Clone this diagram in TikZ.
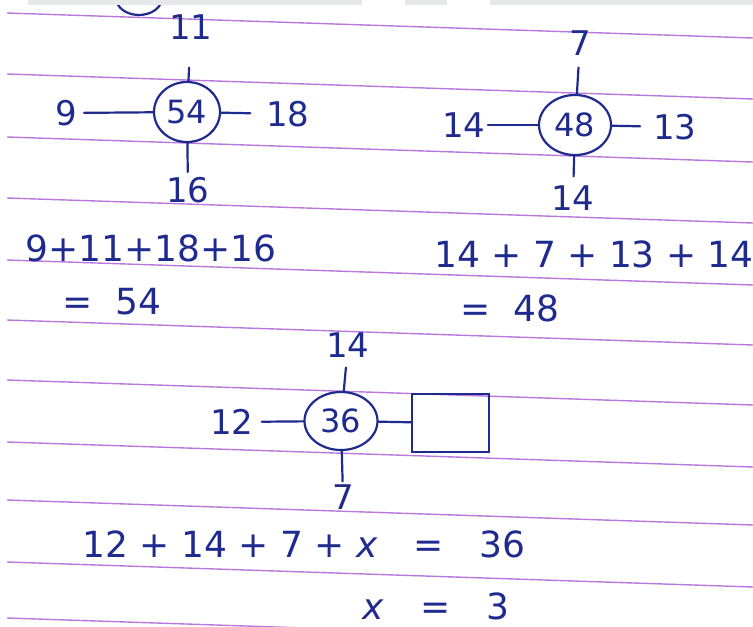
\documentclass[tikz,border=0pt]{standalone}
\usepackage{xcolor}
\usepackage{fontspec}
\setmainfont{DejaVu Sans}
\usetikzlibrary{shapes.geometric}
\definecolor{ink}{HTML}{1F2A8E}
\definecolor{rule}{HTML}{B878DC}
\definecolor{tab}{HTML}{E6E7E8}

\begin{document}
\begin{tikzpicture}[
    x=1pt,y=-1pt,
    lbl/.style={inner sep=1pt,text=ink,font=\fontsize{34}{36}\selectfont},
    eqn/.style={inner sep=1pt,text=ink,font=\fontsize{36}{40}\selectfont},
    ring/.style={draw=ink,ellipse,line width=2.2pt,inner sep=0pt,text=ink,font=\fontsize{32}{34}\selectfont},
    blank/.style={draw=ink,line width=2pt,minimum width=77pt,minimum height=58pt},
    spoke/.style={draw=ink,line width=2.2pt,line cap=round},
    ruled/.style={draw=rule,line width=1.4pt}
  ]
    \useasboundingbox (0,0) rectangle (753,627);
    \clip (0,0) rectangle (753,627);
    \foreach \y in {13,74,137,198,260,320,380,442,500,562,618}
      \draw[ruled] (7,\y) -- (753,{\y+25});
    \draw[ink,line width=2.2pt] (117.4,3.8) arc[start angle=160,end angle=20,x radius=23,y radius=17];
    \fill[tab] (28,0) rectangle (362,5);
    \fill[tab] (405,0) rectangle (447,5);
    \fill[tab] (490,0) rectangle (753,5);

    \node[ring,minimum width=66pt,minimum height=60pt] (c54) at (187,112) {54};
    \node[lbl] (n11) at (191,27) {11};
    \node[lbl] (n16) at (188,190) {16};
    \node[lbl] (n9) at (66,113) {9};
    \node[lbl] (n18) at (288,114) {18};
    \draw[spoke,shorten >=27pt] (c54) -- (n11);
    \draw[spoke,shorten >=4pt] (c54) -- (n16);
    \draw[spoke,shorten >=6pt] (c54) -- (n9);
    \draw[spoke,shorten >=15pt] (c54) -- (n18);

    \node[ring,minimum width=72pt,minimum height=60pt] (c48) at (575,125) {48};
    \node[lbl] (n7) at (580,43) {7};
    \node[lbl] (n14b) at (573,198) {14};
    \node[lbl] (n14l) at (464,125) {14};
    \node[lbl] (n13) at (675,127) {13};
    \draw[spoke,shorten >=11pt] (c48) -- (n7);
    \draw[spoke,shorten >=8pt] (c48) -- (n14b);
    \draw[spoke,shorten >=1pt] (c48) -- (n14l);
    \draw[spoke,shorten >=12pt] (c48) -- (n13);

    \node[eqn] (e54) at (151,248) {9+11+18+16};
    \node[eqn] (r54) at (112,302) {=\ \ 54};
    \node[eqn] (e48) at (594,254) {14 + 7 + 13 + 14};
    \node[eqn] (r48) at (510,308) {=\ \ 48};

    \node[ring,minimum width=73pt,minimum height=58pt] (c36) at (341,421) {36};
    \node[lbl] (m14) at (348,345) {14};
    \node[lbl] (m7) at (343,497) {7};
    \node[lbl] (m12) at (232,422) {12};
    \node[blank] (bx) at (450.5,423) {};
    \draw[spoke,shorten >=9pt] (c36) -- (m14);
    \draw[spoke,shorten >=2pt] (c36) -- (m7);
    \draw[spoke,shorten >=7pt] (c36) -- (m12);
    \draw[spoke] (c36) -- (bx);

    \node[eqn] (e36) at (304,544) {12 + 14 + 7 + {\itshape x}\quad=\quad36};
    \node[eqn] (r36) at (436,606) {{\itshape x}\quad=\quad3};
  \end{tikzpicture}
\end{document}
